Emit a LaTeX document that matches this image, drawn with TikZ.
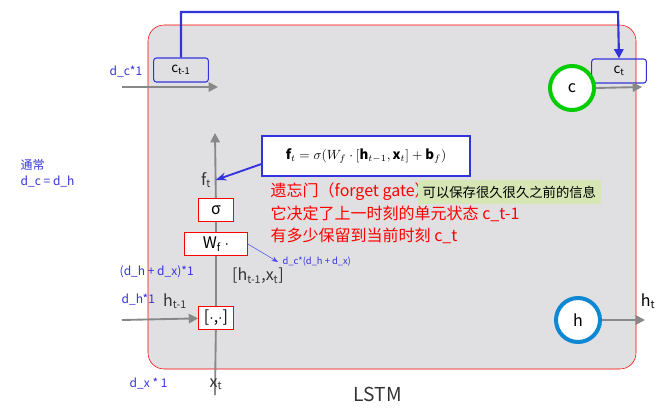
\documentclass[tikz,border=0pt]{standalone}
\usepackage{fontspec}
\usepackage{amsmath}
\setmainfont{Noto Sans CJK SC}
\usetikzlibrary{arrows.meta}
\definecolor{cellgray}{HTML}{E0E0E2}
\definecolor{notegreen}{HTML}{D6E6B4}
\definecolor{lblue}{HTML}{3333DD}
\definecolor{flowgray}{HTML}{888888}
\begin{document}
\begin{tikzpicture}[x=0.75pt,y=-0.75pt,
    gate/.style ={draw=red, fill=white, thick, minimum height=17pt, inner sep=1pt, font=\large},
    state/.style ={draw=lblue, thick, rounded corners=2pt, minimum width=41pt, minimum height=18pt, inner sep=1pt},
    flow/.style ={draw=flowgray, line width=1.4pt, -{Triangle[length=7pt,width=7pt]}},
    note/.style ={text=lblue, font=\small},
    redtext/.style ={text=red, font=\large, anchor=west}]
   \useasboundingbox (0,0) rectangle (666,414);
   \draw[red, fill=cellgray, rounded corners=12pt] (148,25) rectangle (636,369);

   \node[state] (cprev) at (181,70) {c\textsubscript{t-1}};
   \node[state] (cnext) at (619,71) {c\textsubscript{t}};
   \coordinate (cin) at (122,87);
   \coordinate (cprevout) at (218,87);
   \draw[flow] (cin) -- (cprevout);
   \draw[lblue, line width=1.6pt, -{Triangle[length=7pt,width=7pt]}] (cprev.north) |- (618,12) -- (cnext.north);
   \node[circle, draw=green!80!black, line width=3pt, fill=white, minimum size=33pt] (c) at (572,88) {\large c};
   \coordinate (cout) at (642,87);
   \draw[flow] (c.east) -- (cout);

   \node[circle, draw=cyan!70!blue, line width=3pt, fill=white, minimum size=33pt] (h) at (578,320) {\large h};
   \coordinate (hout) at (645,320);
   \draw[flow] (h.east) -- (hout);
   \node (ht) at (648,301) {\large h\textsubscript{t}};

   \coordinate (xin) at (215,395);
   \coordinate (fout) at (215,133);
   \node[gate, minimum width=26pt] (concat) at (216,318) {[$\cdot$,$\cdot$]};
   \node[gate, minimum width=47pt] (W) at (216,244) {W\textsubscript{f} $\cdot$};
   \node[gate, minimum width=26pt] (sigma) at (216,210) {σ};
   \draw[flowgray, line width=1.4pt] (xin) -- (concat);
   \draw[flowgray, line width=1.4pt] (concat) -- (W);
   \draw[flowgray, line width=1.4pt] (W) -- (sigma);
   \draw[flow] (sigma) -- (fout);
   \coordinate (hin) at (122,320);
   \draw[flow] (hin) -- (concat);

   \node[text=black!80] (xt) at (216,384) {\large x\textsubscript{t}};
   \node[text=black!80] (ft) at (206,180) {\large f\textsubscript{t}};
   \node[text=black!80] (hprev) at (175,301) {\large h\textsubscript{t-1}};
   \node[text=black!80] (hx) at (258,276) {\large [h\textsubscript{t-1},x\textsubscript{t}]};

   \node[draw=lblue, thick, fill=white, minimum width=156pt, minimum height=30pt] (eq) at (366,156)
     {$\mathbf{f}_t=\sigma(W_f\cdot[\mathbf{h}_{t-1},\mathbf{x}_t]+\mathbf{b}_f)$};
   \draw[lblue, line width=1.4pt, -{Stealth[length=8pt]}] (eq.west |- 0,164) -- (ft.east);

   \node[redtext] (t1) at (266,192) {遗忘门（forget gate）};
   \node[fill=notegreen, anchor=west, minimum width=131pt, minimum height=18pt] (keep) at (418,192) {可以保存很久很久之前的信息};
   \node[redtext] (t2) at (266,214) {它决定了上一时刻的单元状态 c\_t-1};
   \node[redtext] (t3) at (266,236) {有多少保留到当前时刻 c\_t};

   \node[note, font=\scriptsize, anchor=west] (wsize) at (278,262) {d\_c*(d\_h + d\_x)};
   \draw[blue!70, -{Stealth}] (W.east) -- (wsize.west);

   \node[note, anchor=west] (dc1) at (105,72) {d\_c*1};
   \node[note, anchor=west] (usual) at (16,165) {通常};
   \node[note, anchor=west] (dcdh) at (16,182) {d\_c = d\_h};
   \node[note, anchor=west] (dhdx) at (115,272) {(d\_h + d\_x)*1};
   \node[note, anchor=west] (dh1) at (117,300) {d\_h*1};
   \node[note, anchor=west] (dx1) at (125,384) {d\_x * 1};
   \node[text=black!80, font=\Large] (lstm) at (378,394) {LSTM};
 \end{tikzpicture}
\end{document}
